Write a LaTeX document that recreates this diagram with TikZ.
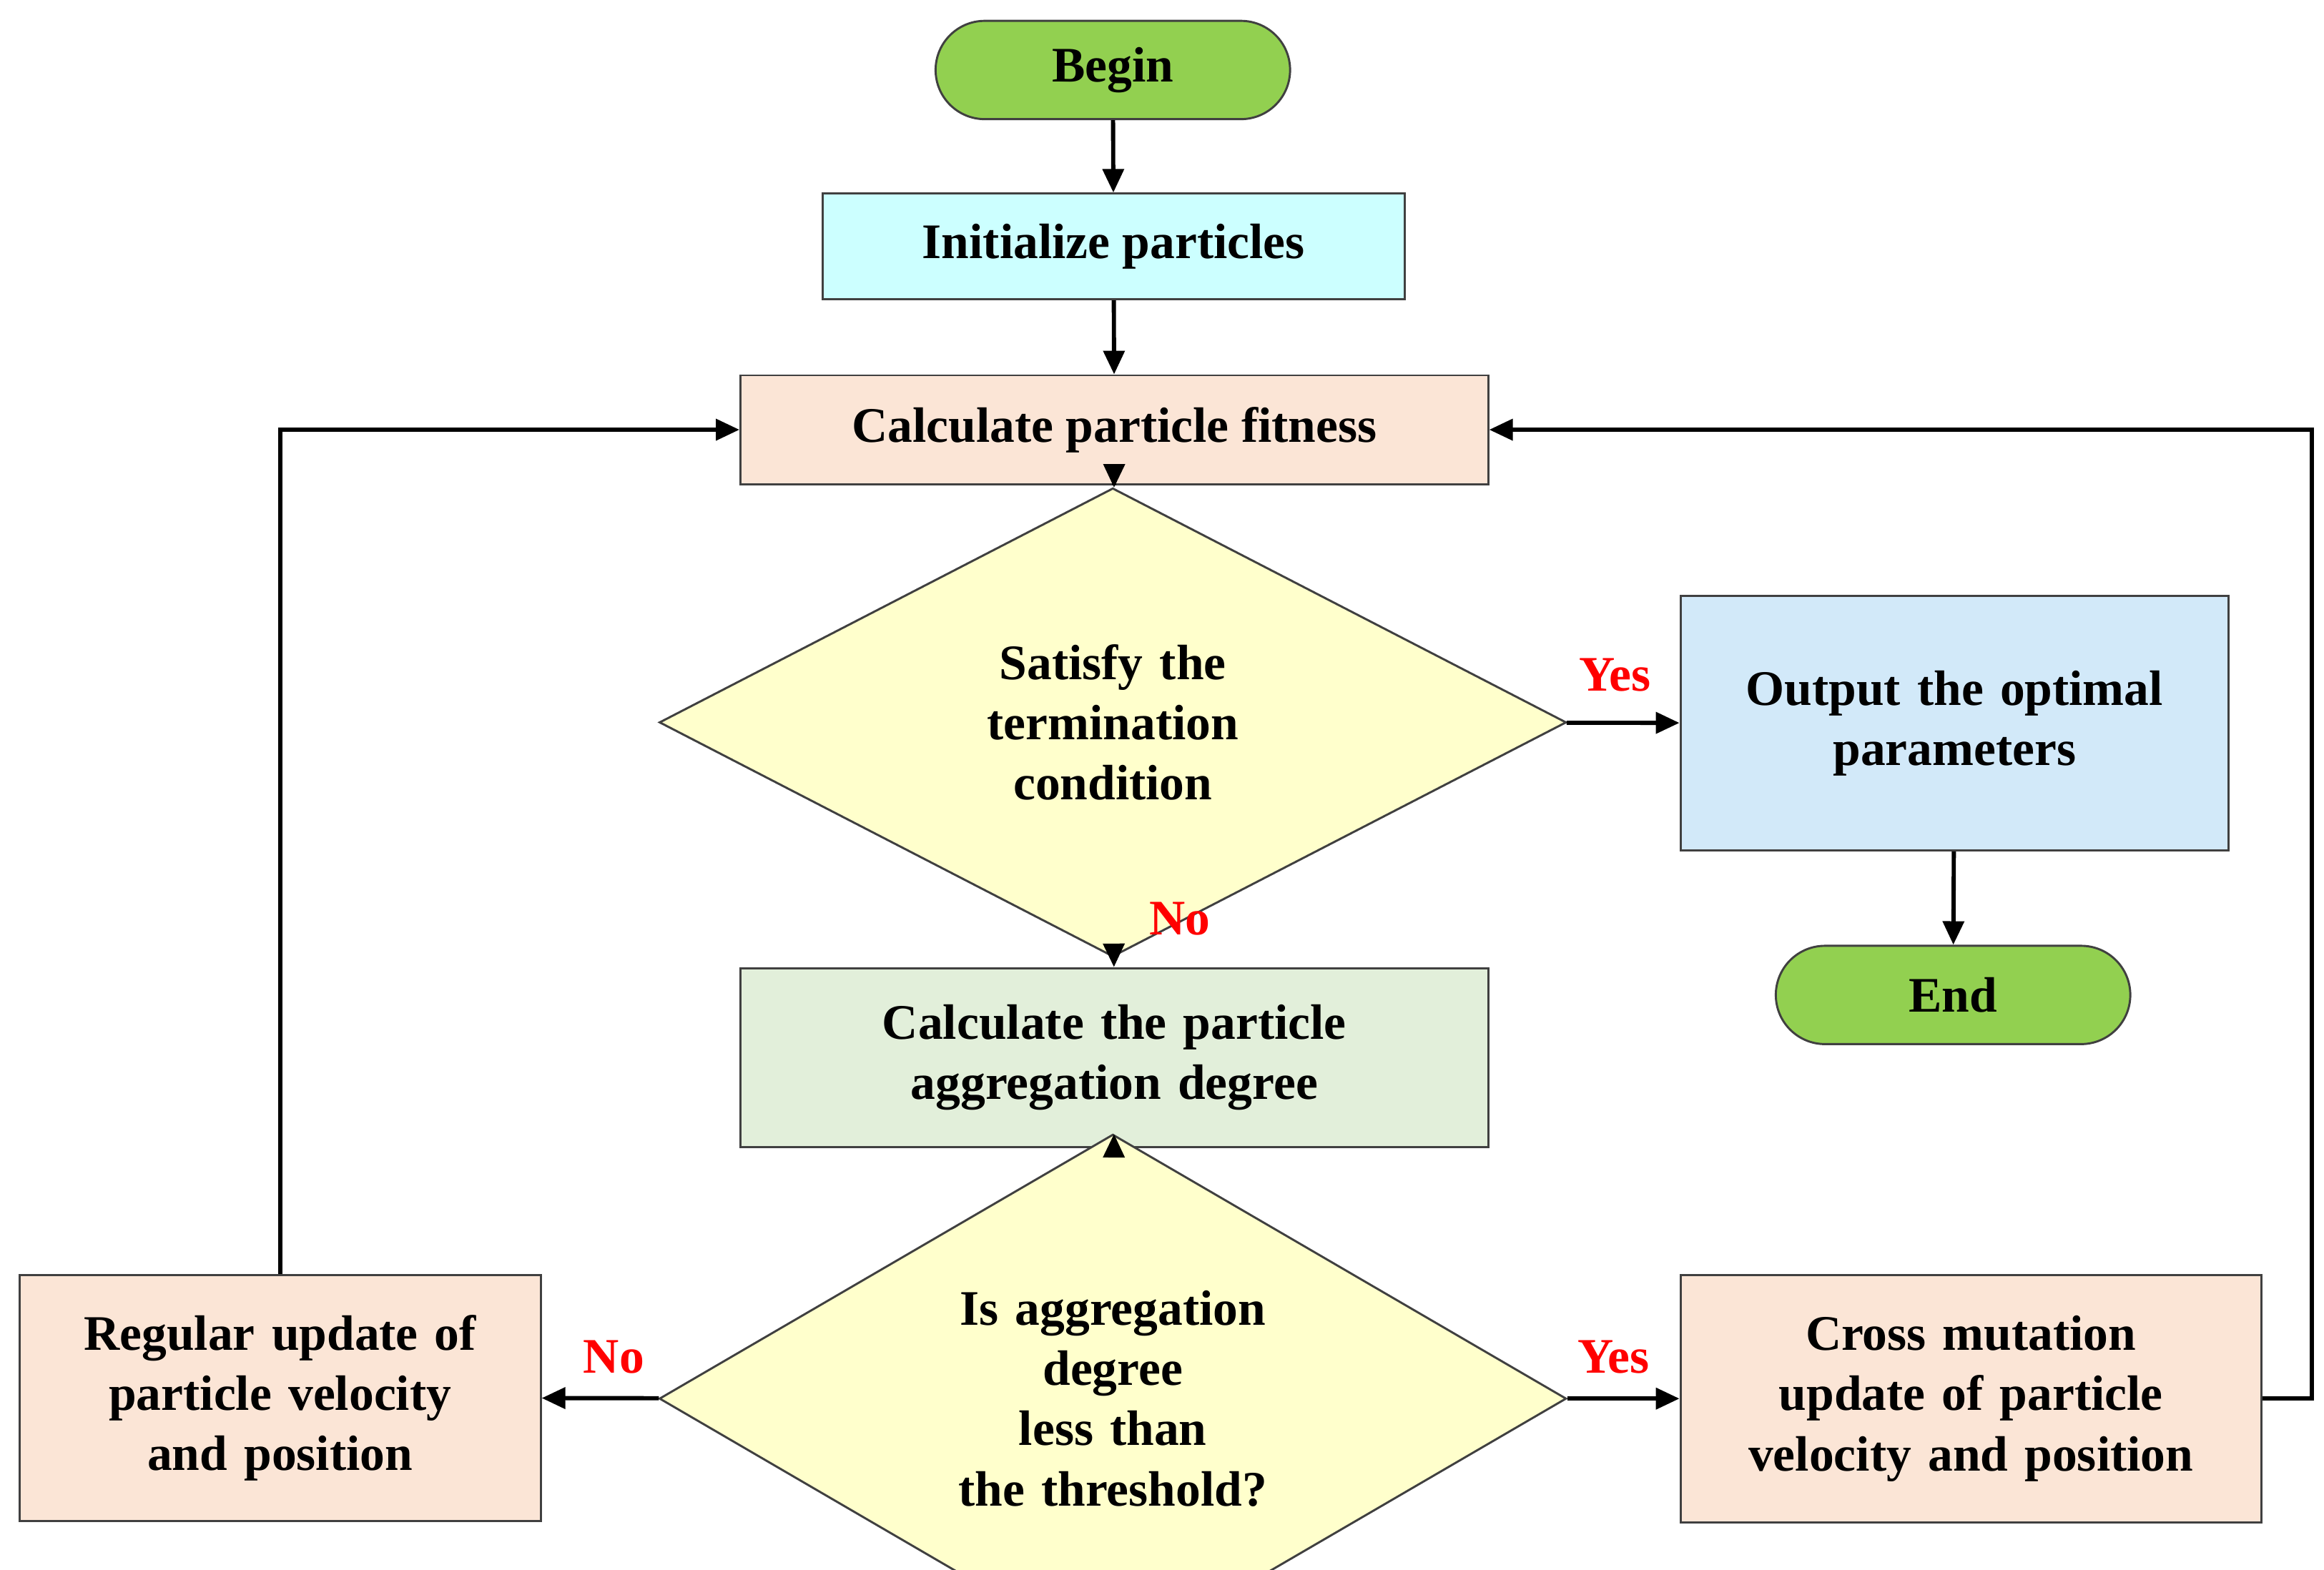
\documentclass[tikz,border=0pt]{standalone}
\usepackage{fontspec}
\setmainfont{Liberation Serif}
\usetikzlibrary{shapes.geometric,arrows.meta}
\definecolor{gr}{HTML}{92D050}
\definecolor{cy}{HTML}{CCFFFF}
\definecolor{pe}{HTML}{FBE5D6}
\definecolor{ye}{HTML}{FFFFCC}
\definecolor{bl}{HTML}{D2E9F9}
\definecolor{lg}{HTML}{E2EFDA}
\begin{document}
\begin{tikzpicture}[x=0.02cm,y=-0.02cm,
  every node/.style={font=\fontsize{19}{23}\selectfont\bfseries, align=center},
  box/.style={draw=black!75, line width=0.8pt, inner sep=0pt},
  term/.style={box, rounded corners=0.66cm, fill=gr, minimum width=4.76cm, minimum height=1.32cm},
  dia/.style={box, diamond, fill=ye, text width=4.2cm, minimum width=12.18cm, minimum height=4.14cm},
  arr/.style={-{Triangle[length=9pt,width=8pt]}, line width=1.6pt},
  lab/.style={text=red, font=\fontsize{19}{23}\selectfont\bfseries}]
\useasboundingbox (0,0) rectangle (1560,1054);
\node[term] (begin) at (747,47) {Begin};
\node[box, fill=cy, minimum width=7.82cm, minimum height=1.42cm] (init) at (747.5,165.5) {Initialize particles};
\node[box, fill=pe, minimum width=10.04cm, minimum height=1.46cm] (fit) at (748,288.5) {Calculate particle fitness};
\node[dia] (d1) at (747,485) {Satisfy the\\termination\\condition};
\node[box, fill=bl, minimum width=7.36cm, minimum height=3.42cm, text width=7cm] (out) at (1312,485.5) {Output the optimal\\parameters};
\node[term] (end) at (1311,668) {End};
\node[box, fill=lg, minimum width=10.04cm, minimum height=2.4cm, text width=9.6cm] (agg) at (748,710) {Calculate the particle\\aggregation degree};
\node[dia] (d2) at (747,939) {Is aggregation\\degree less than\\the threshold?};
\node[box, fill=pe, minimum width=7cm, minimum height=3.3cm, text width=6.8cm] (reg) at (188,938.5) {Regular update of\\particle velocity\\and position};
\node[box, fill=pe, minimum width=7.8cm, minimum height=3.32cm, text width=7.6cm] (cross) at (1323,939) {Cross mutation\\update of particle\\velocity and position};
\draw[arr] (begin) -- (init);
\draw[arr] (init) -- (fit);
\draw[arr] (fit) -- (d1);
\draw[arr] (d1) -- (out);
\draw[arr] (out) -- (end);
\draw[arr] (d1) -- (agg);
\draw[arr] (agg) -- (d2);
\draw[arr] (d2) -- (reg);
\draw[arr] (d2) -- (cross);
\draw[arr] (reg.north) |- (fit.west);
\draw[arr] (cross.east) -- ++(33,0) |- (fit.east);
\node[lab] at (1084,453) {Yes};
\node[lab] at (792,617) {No};
\node[lab] at (412,911) {No};
\node[lab] at (1083,911) {Yes};
\end{tikzpicture}
\end{document}
